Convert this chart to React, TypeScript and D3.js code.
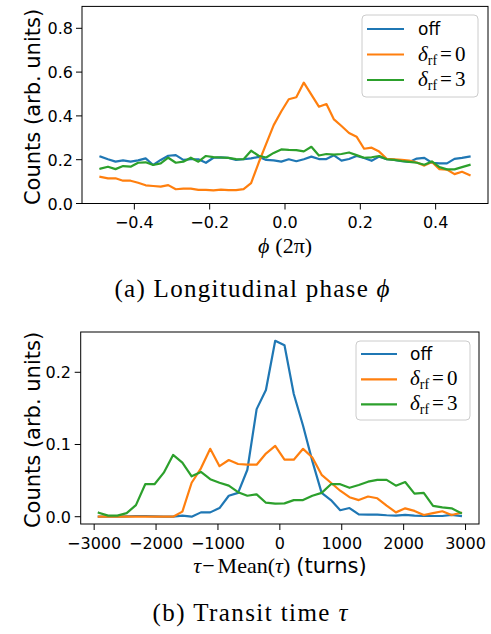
import React from 'react';
import * as d3 from 'd3';

// ---------- data: panel (a) longitudinal phase ----------
const phi = [
  -0.49, -0.47, -0.45, -0.43, -0.41, -0.39, -0.37, -0.35, -0.33, -0.31,
  -0.29, -0.27, -0.25, -0.23, -0.21, -0.19, -0.17, -0.15, -0.13, -0.11,
  -0.09, -0.07, -0.05, -0.03, -0.01, 0.01, 0.03, 0.05, 0.07, 0.09,
  0.11, 0.13, 0.15, 0.17, 0.19, 0.21, 0.23, 0.25, 0.27, 0.29,
  0.31, 0.33, 0.35, 0.37, 0.39, 0.41, 0.43, 0.45, 0.47, 0.49,
];
const phiOff = [
  0.214, 0.202, 0.191, 0.197, 0.191, 0.197, 0.206, 0.176, 0.199, 0.218,
  0.221, 0.199, 0.202, 0.202, 0.186, 0.209, 0.211, 0.208, 0.199, 0.202,
  0.206, 0.213, 0.199, 0.197, 0.191, 0.202, 0.193, 0.202, 0.214, 0.203,
  0.203, 0.220, 0.196, 0.203, 0.217, 0.208, 0.195, 0.214, 0.202, 0.199,
  0.193, 0.190, 0.205, 0.208, 0.186, 0.183, 0.183, 0.204, 0.208, 0.214,
];
const phiRf0 = [
  0.122, 0.115, 0.115, 0.104, 0.104, 0.095, 0.083, 0.080, 0.077, 0.084,
  0.065, 0.068, 0.068, 0.062, 0.062, 0.060, 0.063, 0.061, 0.061, 0.066,
  0.093, 0.186, 0.272, 0.358, 0.420, 0.476, 0.485, 0.552, 0.497, 0.442,
  0.454, 0.384, 0.354, 0.322, 0.305, 0.250, 0.255, 0.237, 0.204, 0.202,
  0.199, 0.196, 0.187, 0.173, 0.190, 0.157, 0.155, 0.134, 0.145, 0.130,
];
const phiRf3 = [
  0.159, 0.168, 0.157, 0.171, 0.168, 0.186, 0.188, 0.176, 0.183, 0.209,
  0.186, 0.191, 0.209, 0.191, 0.217, 0.212, 0.210, 0.208, 0.203, 0.202,
  0.241, 0.218, 0.210, 0.231, 0.247, 0.245, 0.244, 0.238, 0.259, 0.219,
  0.226, 0.223, 0.226, 0.233, 0.221, 0.209, 0.211, 0.217, 0.202, 0.199,
  0.194, 0.190, 0.186, 0.177, 0.192, 0.166, 0.156, 0.156, 0.166, 0.176,
];
const phiTicks = [-0.4, -0.2, 0.0, 0.2, 0.4];
const phiTickLabels = ['\u22120.4', '\u22120.2', '0.0', '0.2', '0.4'];
const phiYTicks = [0, 0.2, 0.4, 0.6, 0.8];
const phiYTickLabels = ['0.0', '0.2', '0.4', '0.6', '0.8'];

// ---------- data: panel (b) transit time ----------
const tau = [
  -2925, -2775, -2625, -2475, -2325, -2175, -2025, -1875, -1725, -1575,
  -1425, -1275, -1125, -975, -825, -675, -525, -375, -225, -75,
  75, 225, 375, 525, 675, 825, 975, 1125, 1275, 1425,
  1575, 1725, 1875, 2025, 2175, 2325, 2475, 2625, 2775, 2925,
];
const tauOff = [
  0, 0, 0, 0.0005, 0.001, 0.001, 0.0005, 0, 0, 0.0015,
  0, 0.006, 0.006, 0.012, 0.029, 0.033, 0.065, 0.149, 0.1755, 0.2436,
  0.2375, 0.170, 0.126, 0.077, 0.033, 0.023, 0.009, 0.012, 0.0033, 0.003,
  0.003, 0.002, 0.0015, 0.0025, 0.0015, 0.001, 0.001, 0.001, 0.0025, 0.001,
];
const tauRf0 = [
  0, 0, 0, 0, 0, 0, 0, 0, 0, 0.007,
  0.047, 0.067, 0.094, 0.070, 0.0785, 0.073, 0.072, 0.072, 0.0875, 0.098,
  0.079, 0.079, 0.094, 0.082, 0.058, 0.047, 0.036, 0.027, 0.023, 0.028,
  0.0255, 0.0155, 0.006, 0.0116, 0.008, 0.0023, 0.005, 0.0075, 0.0023, 0.0055,
];
const tauRf3 = [
  0.0055, 0.0015, 0.0015, 0.005, 0.016, 0.045, 0.045, 0.061, 0.0855, 0.075,
  0.056, 0.062, 0.052, 0.047, 0.043, 0.034, 0.029, 0.031, 0.0194, 0.018,
  0.0185, 0.023, 0.023, 0.029, 0.033, 0.045, 0.045, 0.040, 0.044, 0.0485,
  0.051, 0.051, 0.043, 0.048, 0.032, 0.033, 0.015, 0.013, 0.0116, 0.005,
];
const tauTicks = [-3000, -2000, -1000, 0, 1000, 2000, 3000];
const tauTickLabels = ['\u22123000', '\u22122000', '\u22121000', '0', '1000', '2000', '3000'];
const tauYTicks = [0, 0.1, 0.2];
const tauYTickLabels = ['0.0', '0.1', '0.2'];

const seriesKeys = ['off', 'rf0', 'rf3'];
const seriesColors = ['#1f77b4', '#ff7f0e', '#2ca02c'];

const SANS = 'DejaVu Sans';
const SERIF = 'Liberation Serif';

type Box = { l: number; r: number; t: number; b: number };

function LegendLabel({ k, x, y }: { k: string; x: number; y: number }) {
  if (k === 'off') {
    return (
      <text x={x} y={y + 6} fontFamily={SANS} fontSize={17} fill="#000">off</text>
    );
  }
  const v = k === 'rf0' ? '0' : '3';
  return (
    <text x={x} y={y + 6} fontFamily={SERIF} fontSize={21} fill="#000">
      <tspan fontStyle="italic">δ</tspan>
      <tspan fontSize={14} dy={4}>rf</tspan>
      <tspan dy={-4} dx={3}>=</tspan>
      <tspan dx={3}>{v}</tspan>
    </text>
  );
}

function Panel(props: {
  box: Box;
  xDomain: [number, number];
  yDomain: [number, number];
  xs: number[];
  ys: number[][];
  xTicks: number[];
  xTickLabels: string[];
  yTicks: number[];
  yTickLabels: string[];
  xTickBaseline: number;
  yTickRight: number;
  legend: { x: number; y: number; w: number; h: number; rows: number[]; l0: number; l1: number; tx: number };
}) {
  const { box, xDomain, yDomain, xs, ys, xTicks, xTickLabels, yTicks, yTickLabels, legend } = props;
  const x = d3.scaleLinear().domain(xDomain).range([box.l, box.r]);
  const y = d3.scaleLinear().domain(yDomain).range([box.b, box.t]);
  const line = d3
    .line<[number, number]>()
    .x((d) => x(d[0]))
    .y((d) => y(d[1]));
  return (
    <g>
      {ys.map((vals, si) => (
        <path
          key={si}
          d={line(xs.map((xv, i) => [xv, vals[i]] as [number, number])) || ''}
          fill="none"
          stroke={seriesColors[si]}
          strokeWidth={2.2}
          strokeLinejoin="round"
          strokeLinecap="square"
        />
      ))}
      <rect x={box.l} y={box.t} width={box.r - box.l} height={box.b - box.t} fill="none" stroke="#000" strokeWidth={1} />
      {xTicks.map((t, i) => (
        <g key={'xt' + i}>
          <line x1={x(t)} x2={x(t)} y1={box.b} y2={box.b + 6} stroke="#000" strokeWidth={1} />
          <text x={x(t)} y={props.xTickBaseline} textAnchor="middle" fontFamily={SANS} fontSize={16} fill="#000">
            {xTickLabels[i]}
          </text>
        </g>
      ))}
      {yTicks.map((t, i) => (
        <g key={'yt' + i}>
          <line x1={box.l - 6} x2={box.l} y1={y(t)} y2={y(t)} stroke="#000" strokeWidth={1} />
          <text x={props.yTickRight} y={y(t) + 6} textAnchor="end" fontFamily={SANS} fontSize={16} fill="#000">
            {yTickLabels[i]}
          </text>
        </g>
      ))}
      <rect
        x={legend.x}
        y={legend.y}
        width={legend.w}
        height={legend.h}
        rx={4}
        fill="#fff"
        fillOpacity={0.8}
        stroke="#cccccc"
        strokeWidth={1}
      />
      {seriesKeys.map((k, i) => (
        <g key={'lg' + k}>
          <line x1={legend.l0} x2={legend.l1} y1={legend.rows[i]} y2={legend.rows[i]} stroke={seriesColors[i]} strokeWidth={2.2} />
          <LegendLabel k={k} x={legend.tx} y={legend.rows[i]} />
        </g>
      ))}
      <text
        transform={`translate(40, ${(box.t + box.b) / 2 + 2}) rotate(-90)`}
        textAnchor="middle"
        fontFamily={SANS}
        fontSize={21}
        fill="#000"
      >
        Counts (arb. units)
      </text>
    </g>
  );
}

export default function App() {
  return (
    <svg
      width={491}
      height={634}
      viewBox="0 0 491 634"
      style={{ position: 'absolute', left: 0, top: 0, background: '#fff' }}
    >
      <rect x={0} y={0} width={491} height={634} fill="#fff" />
      <Panel
        box={{ l: 82, r: 488, t: 6.4, b: 203.5 }}
        xDomain={[-0.539, 0.539]}
        yDomain={[0, 0.9]}
        xs={phi}
        ys={[phiOff, phiRf0, phiRf3]}
        xTicks={phiTicks}
        xTickLabels={phiTickLabels}
        yTicks={phiYTicks}
        yTickLabels={phiYTickLabels}
        xTickBaseline={228}
        yTickRight={73}
        legend={{ x: 362, y: 15, w: 116, h: 82, rows: [29, 54.5, 80], l0: 367, l1: 404, tx: 418 }}
      />
      <text x={285} y={253} textAnchor="middle" fontFamily={SERIF} fontSize={22} fill="#000">
        <tspan fontStyle="italic">ϕ</tspan>
        <tspan dx={6}>(2π)</tspan>
      </text>
      <text x={252} y={297} textAnchor="middle" fontFamily={SERIF} fontSize={25} fill="#000" textLength={275} lengthAdjust="spacing">
        (a)  Longitudinal phase <tspan fontStyle="italic">ϕ</tspan>
      </text>

      <Panel
        box={{ l: 80.7, r: 479, t: 332, b: 524 }}
        xDomain={[-3217.5, 3217.5]}
        yDomain={[-0.0101, 0.2558]}
        xs={tau}
        ys={[tauOff, tauRf0, tauRf3]}
        xTicks={tauTicks}
        xTickLabels={tauTickLabels}
        yTicks={tauYTicks}
        yTickLabels={tauYTickLabels}
        xTickBaseline={549}
        yTickRight={71}
        legend={{ x: 356, y: 341, w: 114, h: 79, rows: [354, 379.3, 404.3], l0: 361, l1: 397, tx: 410 }}
      />
      <text x={280} y={573} textAnchor="middle" fill="#000" fontSize={22}>
        <tspan fontFamily={SERIF} fontStyle="italic">τ</tspan>
        <tspan fontFamily={SERIF} dx={1}>−</tspan>
        <tspan fontFamily={SERIF} dx={3}>Mean(</tspan>
        <tspan fontFamily={SERIF} fontStyle="italic">τ</tspan>
        <tspan fontFamily={SERIF}>)</tspan>
        <tspan fontFamily={SANS} fontSize={21} dx={6}>(turns)</tspan>
      </text>
      <text x={250} y={621} textAnchor="middle" fontFamily={SERIF} fontSize={25} fill="#000" textLength={195} lengthAdjust="spacing">
        (b)  Transit time <tspan fontStyle="italic">τ</tspan>
      </text>
    </svg>
  );
}
